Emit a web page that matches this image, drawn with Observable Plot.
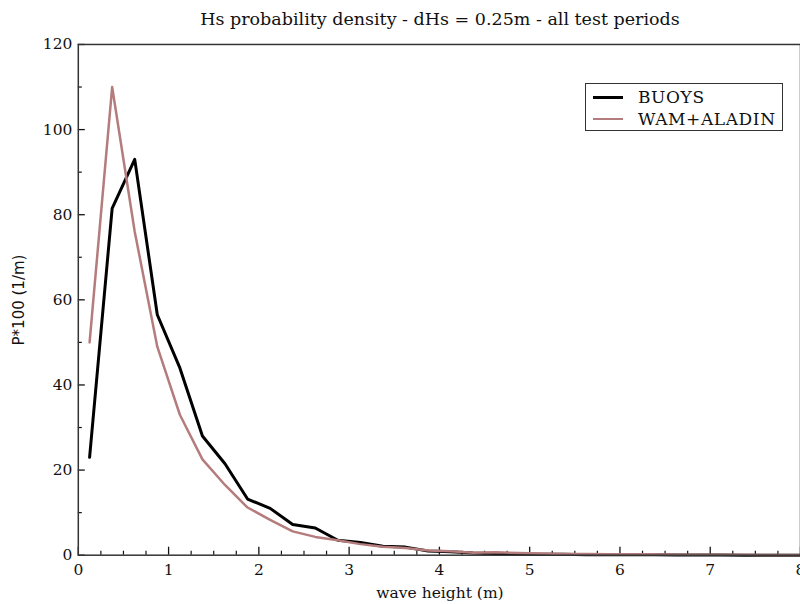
<!DOCTYPE html>
<html>
<head>
<meta charset="utf-8">
<script src="https://cdn.jsdelivr.net/npm/d3@7"></script>
<script src="https://cdn.jsdelivr.net/npm/@observablehq/plot@0.6"></script>
<style>
  html, body { margin: 0; padding: 0; background: #fff; overflow: hidden; width: 800px; height: 604px; }
  #wrap { position: relative; width: 800px; height: 604px; overflow: hidden; }
  #title { position: absolute; left: 0; top: 9px; width: 880px; text-align: center;
           font-family: "DejaVu Serif", serif; font-size: 17.5px; color: #111; }
  #chart { position: absolute; left: 0; top: 34px; }
  #ylabel { position: absolute; left: 19px; top: 300px; transform: translate(-50%, -50%) rotate(-90deg);
            font-family: "DejaVu Sans", sans-serif; font-size: 15px; color: #111; white-space: nowrap; }
  #xlabel { position: absolute; left: 440px; top: 593px; transform: translate(-50%, -50%);
            font-family: "DejaVu Serif", serif; font-size: 15.5px; color: #111; white-space: nowrap; }
  #legend { position: absolute; left: 585px; top: 83px; width: 198px; height: 48px; border: 1.5px solid #333;
            box-sizing: border-box; background: #fff; font-family: "DejaVu Serif", serif; font-size: 17px;
            letter-spacing: 0.6px; color: #111; }
  .row { position: absolute; left: 7px; height: 20px; display: flex; align-items: center; }
  .sw { width: 30px; height: 0; margin-right: 15px; }
</style>
</head>
<body>
<div id="wrap">
  <div id="title">Hs probability density - dHs = 0.25m - all test periods</div>
  <div id="chart"></div>
  <div id="ylabel">P*100 (1/m)</div>
  <div id="xlabel">wave height (m)</div>
  <div id="legend"></div>
</div>
<script>
// wave height bin centres (m)
const hs = [0.125, 0.375, 0.625, 0.875, 1.125, 1.375, 1.625, 1.875, 2.125, 2.375, 2.625, 2.875,
            3.125, 3.375, 3.625, 3.875, 4.125, 4.375, 4.625, 4.875, 5.125, 5.375, 5.625, 5.875,
            6.125, 6.375, 6.625, 6.875, 7.125, 7.375, 7.625, 7.875, 8.125];
// P*100 (1/m)
const buoys = [23, 81.5, 93, 56.5, 44, 28, 21.5, 13.2, 11, 7.2, 6.4, 3.5,
               3.0, 2.1, 1.9, 1.0, 0.8, 0.5, 0.4, 0.3, 0.2, 0.2, 0.1, 0.1,
               0.1, 0.1, 0.05, 0.05, 0.05, 0.0, 0.0, 0.0, 0.0];
const wamAladin = [50, 110, 76, 49, 33, 22.5, 16.5, 11.2, 8.3, 5.6, 4.3, 3.5,
                   2.6, 2.0, 1.7, 1.1, 0.9, 0.6, 0.7, 0.5, 0.4, 0.3, 0.3, 0.2,
                   0.2, 0.2, 0.1, 0.1, 0.1, 0.1, 0.05, 0.05, 0.05];
const seriesNames = ["BUOYS", "WAM+ALADIN"];
const seriesColors = ["#000000", "#b47c7c"];
const xMajor = [0, 1, 2, 3, 4, 5, 6, 7, 8];
const xMinor = [0.25, 0.5, 0.75, 1.25, 1.5, 1.75, 2.25, 2.5, 2.75, 3.25, 3.5, 3.75, 4.25, 4.5, 4.75,
                5.25, 5.5, 5.75, 6.25, 6.5, 6.75, 7.25, 7.5, 7.75];
const yMajor = [0, 20, 40, 60, 80, 100, 120];
const yMinor = [10, 30, 50, 70, 90, 110];

const rows = [];
hs.forEach((h, i) => rows.push({h, p: buoys[i], s: seriesNames[0]}));
hs.forEach((h, i) => rows.push({h, p: wamAladin[i], s: seriesNames[1]}));

const W = 802, H = 570, mL = 78, mR = 0, mT = 10, mB = 48;
const pw = W - mL - mR, ph = H - mT - mB;

const chart = Plot.plot({
  width: W, height: H,
  marginLeft: mL, marginRight: mR, marginTop: mT, marginBottom: mB,
  style: {fontFamily: "DejaVu Serif, serif", fontSize: "15.5px", color: "#111", background: "#fff", overflow: "hidden"},
  x: {domain: [0, 8], ticks: xMajor, tickSize: 0, tickPadding: 9, label: null, tickFormat: d => String(d)},
  y: {domain: [0, 120], ticks: yMajor, tickSize: 0, tickPadding: 6, label: null, tickFormat: d => String(d)},
  color: {domain: seriesNames, range: seriesColors},
  marks: [
    Plot.tickX(xMajor, {x: d => d, insetTop: ph - 8, stroke: "#111", strokeWidth: 1.3}),
    Plot.tickX(xMinor, {x: d => d, insetTop: ph - 4, stroke: "#111", strokeWidth: 1.2}),
    Plot.tickY(yMajor, {y: d => d, insetRight: pw - 7, stroke: "#111", strokeWidth: 1.3}),
    Plot.tickY(yMinor, {y: d => d, insetRight: pw - 4, stroke: "#111", strokeWidth: 1.2}),
    Plot.line(rows.filter(d => d.s === seriesNames[0]), {x: "h", y: "p", stroke: "s", strokeWidth: 3, strokeLinejoin: "round"}),
    Plot.line(rows.filter(d => d.s === seriesNames[1]), {x: "h", y: "p", stroke: "s", strokeWidth: 2.5, strokeLinejoin: "round"}),
    Plot.frame({stroke: "#333", strokeWidth: 1.5})
  ]
});
document.getElementById("chart").appendChild(chart);

const leg = document.getElementById("legend");
seriesNames.forEach((name, i) => {
  const r = document.createElement("div");
  r.className = "row";
  r.style.top = (3 + i * 22) + "px";
  const sw = document.createElement("div");
  sw.className = "sw";
  sw.style.borderTop = (i === 0 ? 3 : 2.5) + "px solid " + seriesColors[i];
  const t = document.createElement("span");
  t.textContent = name;
  r.appendChild(sw);
  r.appendChild(t);
  leg.appendChild(r);
});
</script>
</body>
</html>
